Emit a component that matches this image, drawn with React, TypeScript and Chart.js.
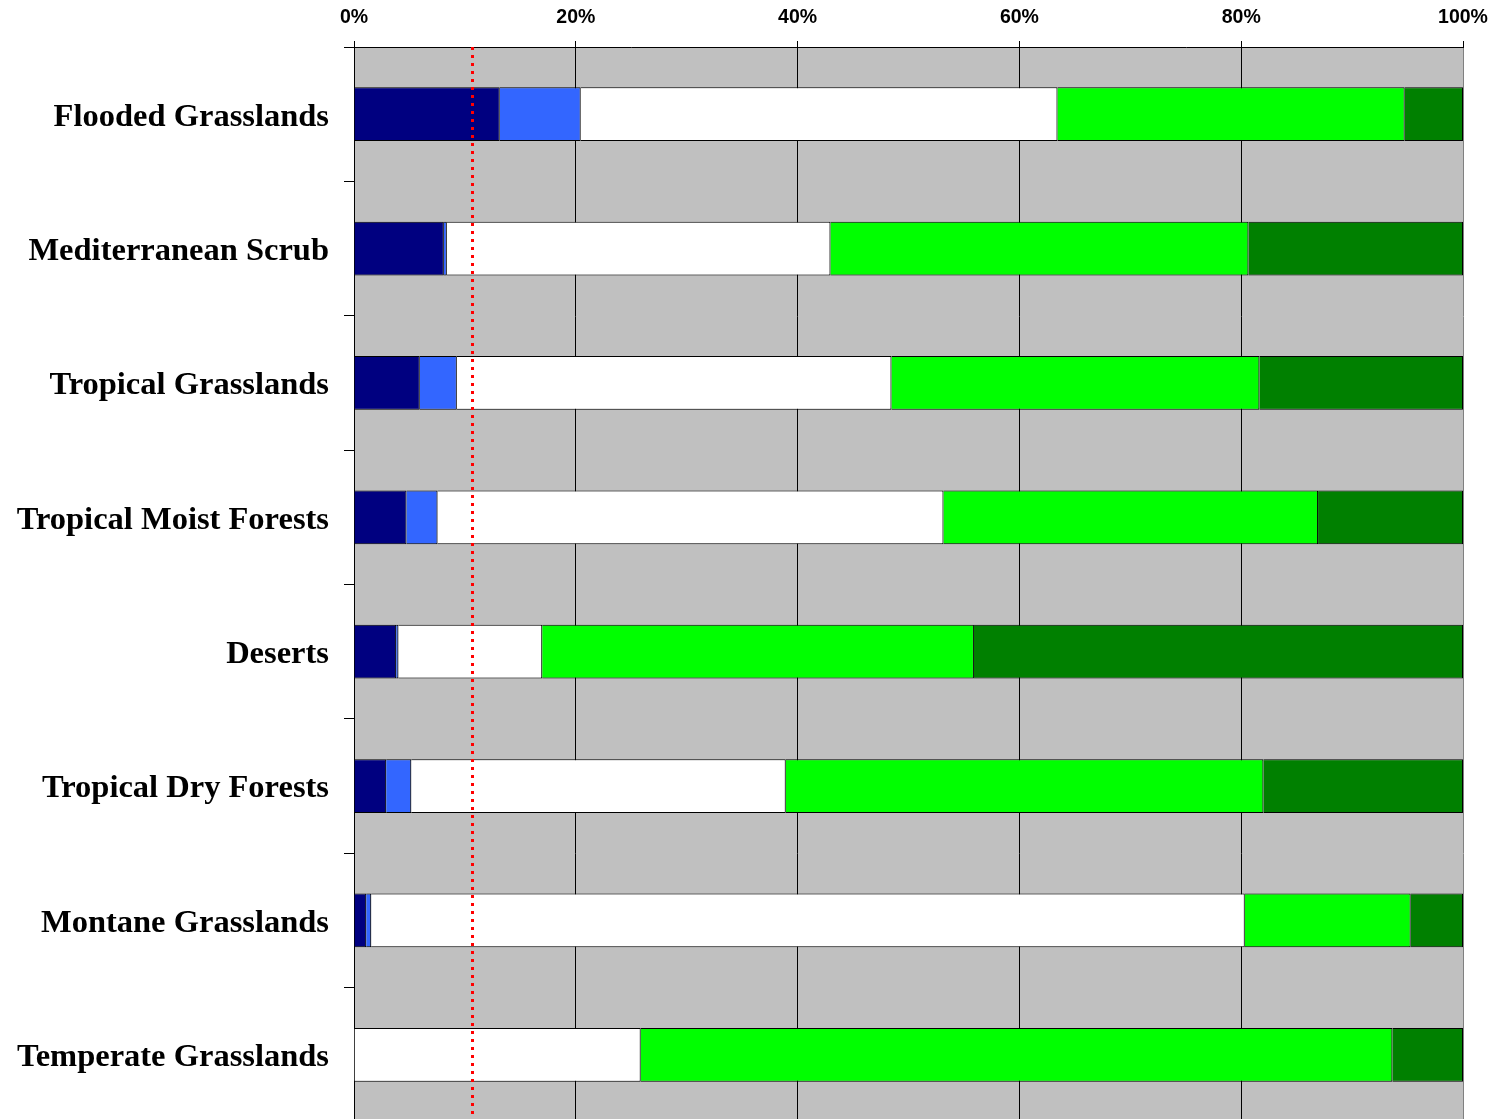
import React, { useEffect, useRef } from "react";
import { Chart, registerables } from "chart.js";

Chart.register(...registerables);

const categories = [
  "Flooded Grasslands",
  "Mediterranean Scrub",
  "Tropical Grasslands",
  "Tropical Moist Forests",
  "Deserts",
  "Tropical Dry Forests",
  "Montane Grasslands",
  "Temperate Grasslands",
];

const seriesNavy = [13.14, 8.1, 5.93, 4.73, 3.8, 2.9, 1.1, 0];
const seriesBlue = [7.3, 0.27, 3.34, 2.8, 0.2, 2.26, 0.45, 0];
const seriesWhite = [42.99, 34.59, 39.19, 45.62, 12.97, 33.77, 78.77, 25.85];
const seriesGreen = [31.31, 37.69, 33.18, 33.78, 38.93, 43.07, 14.96, 67.78];
const seriesDarkGreen = [5.26, 19.35, 18.36, 13.07, 44.1, 18.0, 4.72, 6.37];

const xTicks = [0, 20, 40, 60, 80, 100];
const referenceLine = 10.6;

const plotBackground = {
  id: "plotBackground",
  beforeDraw(chart: any) {
    const { ctx, chartArea } = chart;
    ctx.save();
    ctx.fillStyle = "#C0C0C0";
    ctx.fillRect(chartArea.left, chartArea.top, chartArea.right - chartArea.left, chartArea.bottom - chartArea.top);
    ctx.restore();
  },
};

const redLine = {
  id: "redLine",
  afterDatasetsDraw(chart: any) {
    const { ctx, chartArea, scales } = chart;
    const x = Math.round(scales.x.getPixelForValue(referenceLine)) + 0.5;
    ctx.save();
    ctx.strokeStyle = "#FF0000";
    ctx.lineWidth = 3;
    ctx.lineCap = "butt";
    ctx.setLineDash([3, 5]);
    ctx.beginPath();
    ctx.moveTo(x, chartArea.top);
    ctx.lineTo(x, chartArea.bottom);
    ctx.stroke();
    ctx.restore();
  },
};

export default function App() {
  const canvasRef = useRef<HTMLCanvasElement | null>(null);

  useEffect(() => {
    if (!canvasRef.current) return;
    const mk = (label: string, data: number[], color: string) => ({
      label,
      data,
      backgroundColor: color,
      borderColor: "#000000",
      borderWidth: 1,
      borderSkipped: "start" as const,
      barPercentage: 0.4,
      categoryPercentage: 1,
    });
    const chart = new Chart(canvasRef.current, {
      type: "bar",
      data: {
        labels: categories,
        datasets: [
          mk("Navy", seriesNavy, "#000080"),
          mk("Blue", seriesBlue, "#3366FF"),
          mk("White", seriesWhite, "#FFFFFF"),
          mk("Green", seriesGreen, "#00FF00"),
          mk("Dark green", seriesDarkGreen, "#008000"),
        ],
      },
      options: {
        indexAxis: "y",
        responsive: false,
        animation: false,
        layout: { padding: { left: 0, right: 32, top: 0, bottom: 0 } },
        plugins: {
          legend: { display: false },
          tooltip: { enabled: false },
        },
        scales: {
          x: {
            position: "top",
            stacked: true,
            min: 0,
            max: 100,
            afterBuildTicks: (scale: any) => {
              scale.ticks = xTicks.map((v) => ({ value: v }));
            },
            afterFit: (scale: any) => {
              scale.height = 47;
              scale.paddingLeft = 0;
              scale.paddingRight = 0;
            },
            ticks: {
              callback: (v: any) => v + "%",
              color: "#000000",
              padding: 12,
              maxRotation: 0,
              font: { family: "'Liberation Sans', Arial, sans-serif", size: 19.5, weight: "bold" },
            },
            grid: {
              color: (ctx: any) => (ctx.tick && ctx.tick.value === 100 ? "#808080" : "#000000"),
              tickColor: "#000000",
              tickLength: 6,
              lineWidth: 1,
            },
            border: { display: true, color: "#000000", width: 1 },
          },
          y: {
            stacked: true,
            afterFit: (scale: any) => {
              scale.width = 354;
              scale.paddingTop = 0;
              scale.paddingBottom = 0;
            },
            ticks: {
              color: "#000000",
              padding: 15,
              labelOffset: 3,
              autoSkip: false,
              font: { family: "'Liberation Serif', 'Times New Roman', serif", size: 32.5, weight: "bold" },
            },
            grid: {
              offset: true,
              drawOnChartArea: false,
              color: "#000000",
              tickColor: "#000000",
              tickLength: 10,
              lineWidth: 1,
            },
            border: { display: true, color: "#000000", width: 1 },
          },
        },
      },
      plugins: [plotBackground, redLine],
    });
    return () => chart.destroy();
  }, []);

  return (
    <div
      style={{
        position: "absolute",
        left: 0,
        top: 0,
        width: 1495,
        height: 1119,
        overflow: "hidden",
        background: "#FFFFFF",
      }}
    >
      <canvas ref={canvasRef} width={1495} height={1122} style={{ display: "block" }} />
    </div>
  );
}
